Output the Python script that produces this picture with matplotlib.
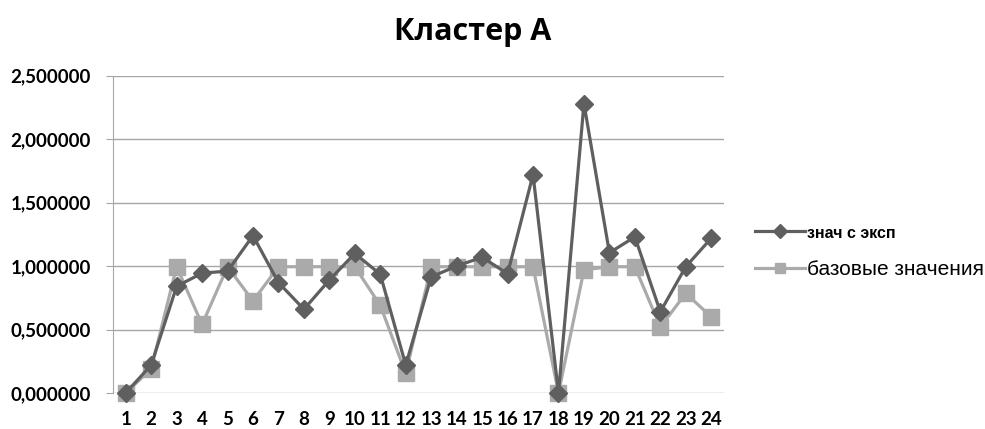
import matplotlib
matplotlib.use("Agg")
import matplotlib.pyplot as plt
from matplotlib.ticker import FuncFormatter

categories = list(range(1, 25))
znach_s_eksp = [0.0, 0.22, 0.84, 0.945, 0.96, 1.24, 0.87, 0.66, 0.89, 1.10, 0.935, 0.22,
                0.915, 1.0, 1.07, 0.94, 1.72, 0.0, 2.28, 1.105, 1.23, 0.64, 0.995, 1.22]
bazovye = [0.0, 0.19, 0.995, 0.54, 0.995, 0.725, 0.995, 0.995, 0.995, 0.995, 0.69, 0.155,
           0.995, 0.995, 0.995, 0.995, 0.995, 0.0, 0.97, 0.995, 0.995, 0.52, 0.785, 0.60]
yticks = [0.0, 0.5, 1.0, 1.5, 2.0, 2.5]

dark = "#5f5f5f"
light = "#aaaaaa"

fig = plt.figure(figsize=(9.85, 4.29), dpi=100)
ax = fig.add_axes([0.1147, 0.0839, 0.6203, 0.7396])

ax.plot(categories, znach_s_eksp, color=dark, lw=2.3, marker="D", ms=9.5,
        label="знач с эксп", zorder=3, clip_on=False)
ax.plot(categories, bazovye, color=light, lw=2.3, marker="s", ms=11.5,
        label="базовые значения", zorder=2, clip_on=False)

ax.set_xlim(0.5, 24.5)
ax.set_ylim(0, 2.5)
ax.set_yticks(yticks)
ax.yaxis.set_major_formatter(FuncFormatter(lambda v, p: f"{v:.6f}".replace(".", ",")))
ax.set_xticks(categories)
ax.set_xticklabels([str(c) for c in categories])
ax.grid(axis="y", color="#a6a6a6", lw=1.0)
ax.set_axisbelow(True)
for s in ["top", "right", "bottom"]:
    ax.spines[s].set_visible(False)
ax.spines["left"].set_color("#a6a6a6")
ax.tick_params(axis="y", length=5, color="#a6a6a6", pad=11, labelsize=13.5)
ax.tick_params(axis="x", length=0, pad=13, labelsize=13.5)
for lab in ax.get_xticklabels() + ax.get_yticklabels():
    lab.set_fontfamily("Lato")
    lab.set_fontweight("bold")

fig.text(0.480, 0.925, "Кластер А", ha="center", va="center", fontsize=22,
         fontweight="bold", family="Open Sans")

leg = ax.legend(loc="center left", bbox_to_anchor=(1.05, 0.446), frameon=False,
                handlelength=2.4, labelspacing=0.9, handletextpad=0.1,
                borderpad=0.0, borderaxespad=0.0,
                prop={"family": "Liberation Sans", "size": 15})
texts = leg.get_texts()
texts[0].set_fontsize(11.5)
texts[0].set_fontweight("bold")
for h in leg.legend_handles:
    h.set_markersize(7)

fig.savefig("out.png", dpi=100)
